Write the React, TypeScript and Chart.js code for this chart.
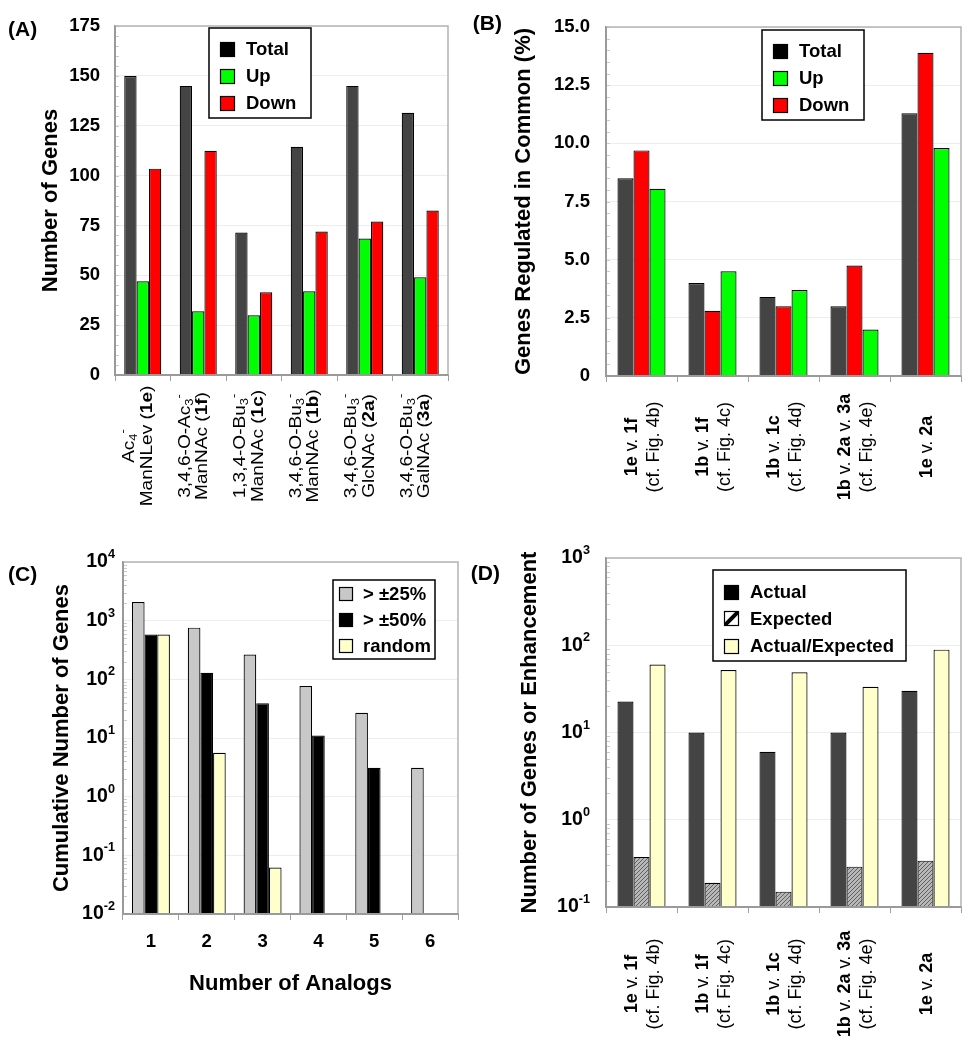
import React, { useEffect, useRef } from 'react';
import { Chart, registerables } from 'chart.js';

Chart.register(...registerables);

const FONT = 'Arial, "Liberation Sans", Helvetica, sans-serif';

// ---------- Panel A data ----------
const compoundLabels: string[][] = [
  ['Ac_4^-', 'ManNLev (*1e*)'],
  ['3,4,6-O-Ac_3^-', 'ManNAc (*1f*)'],
  ['1,3,4-O-Bu_3^-', 'ManNAc (*1c*)'],
  ['3,4,6-O-Bu_3^-', 'ManNAc (*1b*)'],
  ['3,4,6-O-Bu_3^-', 'GlcNAc (*2a*)'],
  ['3,4,6-O-Bu_3^-', 'GalNAc (*3a*)'],
];
const totalGenes = [150, 145, 71.5, 114.5, 145, 131.5];
const upGenes = [47, 32, 30, 42, 68.5, 49];
const downGenes = [103.5, 112.5, 41.5, 72, 77, 82.5];
const seriesNamesA = ['Total', 'Up', 'Down'];

// ---------- Panel B data ----------
const comparisonLabels: string[][] = [
  ['*1e* v. *1f*', '(cf. Fig. 4b)'],
  ['*1b* v. *1f*', '(cf. Fig. 4c)'],
  ['*1b* v. *1c*', '(cf. Fig. 4d)'],
  ['*1b* v. *2a* v. *3a*', '(cf. Fig. 4e)'],
  ['*1e* v. *2a*'],
];
const commonTotal = [8.5, 4.0, 3.4, 3.0, 11.3];
const commonDown = [9.7, 2.8, 3.0, 4.75, 13.9];
const commonUp = [8.05, 4.5, 3.7, 2.0, 9.8];

// ---------- Panel C data ----------
const analogCounts = ['1', '2', '3', '4', '5', '6'];
const cum25 = [2080, 760, 265, 77, 27, 3.1];
const cum50 = [580, 129, 39, 11, 3.1, null];
const cumRandom = [580, 5.6, 0.062, null, null, null];
const seriesNamesC = ['> ±25%', '> ±50%', 'random'];
const decadesC = [0.01, 0.1, 1, 10, 100, 1000, 10000];

// ---------- Panel D data ----------
const actualCommon = [22.6, 10, 6, 10, 30];
const expectedCommon = [0.375, 0.19, 0.15, 0.29, 0.34];
const enhancement = [60, 52, 49, 33.5, 89];
const seriesNamesD = ['Actual', 'Expected', 'Actual/Expected'];
const decadesD = [0.1, 1, 10, 100, 1000];

// ---------- styles ----------
const DARK = '#444444';
const GREEN = '#00ff00';
const RED = '#ff0000';
const LIGHTGRAY = '#c8c8c8';
const YELLOW = '#ffffcc';

type Seg = { t: string; bold: boolean; pos: number };

function parseRich(s: string): Seg[] {
  const segs: Seg[] = [];
  let bold = false;
  let buf = '';
  const flush = () => {
    if (buf) {
      segs.push({ t: buf, bold, pos: 0 });
      buf = '';
    }
  };
  for (let i = 0; i < s.length; i++) {
    const ch = s[i];
    if (ch === '*') {
      flush();
      bold = !bold;
    } else if (ch === '_' || ch === '^') {
      flush();
      segs.push({ t: s[i + 1], bold, pos: ch === '^' ? 1 : -1 });
      i++;
    } else buf += ch;
  }
  flush();
  return segs;
}

function segFont(seg: Seg, size: number) {
  const sz = seg.pos ? size * 0.68 : size;
  return `${seg.bold ? 'bold ' : ''}${sz}px ${FONT}`;
}

function richWidth(ctx: CanvasRenderingContext2D, segs: Seg[], size: number) {
  let w = 0;
  segs.forEach((s) => {
    ctx.font = segFont(s, size);
    w += ctx.measureText(s.t).width;
  });
  return w;
}

function drawRichLine(ctx: CanvasRenderingContext2D, segs: Seg[], size: number, x: number, y: number) {
  let cx = x;
  segs.forEach((s) => {
    ctx.font = segFont(s, size);
    const dy = s.pos === 1 ? -size * 0.45 : s.pos === -1 ? size * 0.18 : 0;
    ctx.fillText(s.t, cx, y + dy);
    cx += ctx.measureText(s.t).width;
  });
}

function drawRotatedLabels(
  chart: any,
  labels: string[][],
  o: { size: number; lineH: number; stretch: number; cy: number; shift: number }
) {
  const ctx: CanvasRenderingContext2D = chart.ctx;
  const xs = chart.scales.x;
  labels.forEach((lines, i) => {
    const cx = xs.getPixelForValue(i) + o.shift;
    ctx.save();
    ctx.translate(cx, o.cy);
    ctx.rotate(-Math.PI / 2);
    ctx.scale(o.stretch, 1);
    ctx.fillStyle = '#000';
    ctx.textAlign = 'left';
    ctx.textBaseline = 'alphabetic';
    const n = lines.length;
    const capH = 0.716 * o.size;
    lines.forEach((line, j) => {
      const segs = parseRich(line);
      const w = richWidth(ctx, segs, o.size);
      const by = (j - (n - 1) / 2) * o.lineH + capH / 2;
      drawRichLine(ctx, segs, o.size, -w / 2, by);
    });
    ctx.restore();
  });
}

function drawFrame(ctx: CanvasRenderingContext2D, ca: any) {
  ctx.save();
  ctx.strokeStyle = '#b4b4b4';
  ctx.lineWidth = 1.5;
  ctx.beginPath();
  ctx.moveTo(ca.left, ca.top);
  ctx.lineTo(ca.right, ca.top);
  ctx.lineTo(ca.right, ca.bottom);
  ctx.stroke();
  ctx.strokeStyle = '#9a9a9a';
  ctx.lineWidth = 2;
  ctx.beginPath();
  ctx.moveTo(ca.left, ca.top);
  ctx.lineTo(ca.left, ca.bottom);
  ctx.lineTo(ca.right, ca.bottom);
  ctx.stroke();
  ctx.restore();
}

function minorLinear(ctx: CanvasRenderingContext2D, scale: any, ca: any, step: number) {
  ctx.save();
  ctx.strokeStyle = '#cccccc';
  ctx.lineWidth = 1;
  for (let v = scale.min; v <= scale.max + 1e-9; v += step) {
    const y = Math.round(scale.getPixelForValue(v)) + 0.5;
    ctx.beginPath();
    ctx.moveTo(ca.left, y);
    ctx.lineTo(ca.left + 4, y);
    ctx.stroke();
  }
  ctx.restore();
}

function minorLog(ctx: CanvasRenderingContext2D, scale: any, ca: any, decades: number[]) {
  ctx.save();
  ctx.strokeStyle = '#cccccc';
  ctx.lineWidth = 1;
  for (let k = 0; k < decades.length - 1; k++) {
    for (let m = 2; m <= 9; m++) {
      const y = Math.round(scale.getPixelForValue(decades[k] * m)) + 0.5;
      ctx.beginPath();
      ctx.moveTo(ca.left, y);
      ctx.lineTo(ca.left + 4, y);
      ctx.stroke();
    }
  }
  ctx.restore();
}

function drawLogLabels(ctx: CanvasRenderingContext2D, scale: any, decades: number[], rightX: number, size: number) {
  ctx.save();
  ctx.fillStyle = '#000';
  ctx.textAlign = 'left';
  ctx.textBaseline = 'middle';
  decades.forEach((v) => {
    const y = scale.getPixelForValue(v);
    const exp = String(Math.round(Math.log10(v)));
    const supFont = `bold ${size * 0.65}px ${FONT}`;
    const baseFont = `bold ${size}px ${FONT}`;
    ctx.font = supFont;
    const ws = ctx.measureText(exp).width;
    ctx.font = baseFont;
    const wb = ctx.measureText('10').width;
    ctx.fillText('10', rightX - ws - wb, y);
    ctx.font = supFont;
    ctx.fillText(exp, rightX - ws, y - size * 0.38);
  });
  ctx.restore();
}

function drawYTitle(ctx: CanvasRenderingContext2D, text: string, x: number, ca: any) {
  ctx.save();
  ctx.translate(x, (ca.top + ca.bottom) / 2);
  ctx.rotate(-Math.PI / 2);
  ctx.font = `bold 22px ${FONT}`;
  ctx.fillStyle = '#000';
  ctx.textAlign = 'center';
  ctx.textBaseline = 'middle';
  ctx.fillText(text, 0, 0);
  ctx.restore();
}

function drawText(ctx: CanvasRenderingContext2D, text: string, x: number, y: number, align: CanvasTextAlign, size: number) {
  ctx.save();
  ctx.font = `bold ${size}px ${FONT}`;
  ctx.fillStyle = '#000';
  ctx.textAlign = align;
  ctx.textBaseline = 'middle';
  ctx.fillText(text, x, y);
  ctx.restore();
}

type LegendItem = { label: string; fill: any };
function drawLegend(
  ctx: CanvasRenderingContext2D,
  box: number[],
  items: LegendItem[],
  ys: number[],
  swX: number,
  sw: number,
  textX: number,
  size: number
) {
  ctx.save();
  ctx.fillStyle = '#fff';
  ctx.fillRect(box[0], box[1], box[2] - box[0], box[3] - box[1]);
  ctx.strokeStyle = '#000';
  ctx.lineWidth = 1.5;
  ctx.strokeRect(box[0], box[1], box[2] - box[0], box[3] - box[1]);
  items.forEach((it, i) => {
    const y = ys[i];
    const x0 = swX;
    const y0 = Math.round(y - sw / 2);
    if (it.fill === 'slash') {
      ctx.fillStyle = '#fff';
      ctx.fillRect(x0, y0, sw, sw);
      ctx.save();
      ctx.beginPath();
      ctx.rect(x0, y0, sw, sw);
      ctx.clip();
      ctx.strokeStyle = '#000';
      ctx.lineWidth = 4;
      ctx.beginPath();
      ctx.moveTo(x0, y0 + sw);
      ctx.lineTo(x0 + sw, y0);
      ctx.stroke();
      ctx.restore();
    } else {
      ctx.fillStyle = it.fill;
      ctx.fillRect(x0, y0, sw, sw);
    }
    ctx.strokeStyle = '#000';
    ctx.lineWidth = 1.2;
    ctx.strokeRect(x0 + 0.5, y0 + 0.5, sw - 1, sw - 1);
    ctx.fillStyle = '#000';
    ctx.font = `bold ${size}px ${FONT}`;
    ctx.textAlign = 'left';
    ctx.textBaseline = 'middle';
    ctx.fillText(it.label, textX, y + 1);
  });
  ctx.restore();
}

function makeHatch(): any {
  const c = document.createElement('canvas');
  c.width = 4;
  c.height = 4;
  const g = c.getContext('2d');
  if (!g) return '#a0a0a0';
  g.fillStyle = '#b8b8b8';
  g.fillRect(0, 0, 4, 4);
  g.fillStyle = '#606060';
  g.fillRect(0, 3, 1, 1);
  g.fillRect(1, 2, 1, 1);
  g.fillRect(2, 1, 1, 1);
  g.fillRect(3, 0, 1, 1);
  return g.createPattern(c, 'repeat') || '#a0a0a0';
}

const plain = (lines: string[]) => lines.join(' ').replace(/[*_^]/g, '');

function barSet(label: string, data: any[], color: any, cp: number) {
  return {
    label,
    data,
    backgroundColor: color,
    borderColor: '#000',
    borderWidth: 1.2,
    categoryPercentage: cp,
    barPercentage: 1,
  };
}

const tickFont = { family: FONT, size: 18.5, weight: 'bold' as const };

function baseOptions(padding: any) {
  return {
    responsive: false,
    animation: false,
    devicePixelRatio: 1,
    events: [],
    layout: { padding },
    plugins: { legend: { display: false }, tooltip: { enabled: false }, title: { display: false } },
  };
}

function xCategoryAxis(height: number, showTicks: boolean, padding = 0) {
  return {
    type: 'category',
    ticks: { display: showTicks, font: tickFont, color: '#000', padding, maxRotation: 0, autoSkip: false },
    grid: { display: true, drawOnChartArea: false, drawTicks: true, tickLength: 6, color: '#a0a0a0', offset: true },
    border: { display: true, color: '#9a9a9a', width: 2 },
    afterFit: (s: any) => {
      s.height = height;
    },
  };
}

// ---------- Panel A ----------
function makeA() {
  return {
    type: 'bar',
    data: {
      labels: compoundLabels.map(plain),
      datasets: [
        barSet(seriesNamesA[0], totalGenes, DARK, 0.667),
        barSet(seriesNamesA[1], upGenes, GREEN, 0.667),
        barSet(seriesNamesA[2], downGenes, RED, 0.667),
      ],
    },
    options: {
      ...baseOptions({ left: 0, top: 22, right: 17, bottom: 0 }),
      scales: {
        x: xCategoryAxis(150, false),
        y: {
          min: 0,
          max: 175,
          ticks: { stepSize: 25, font: tickFont, color: '#000', padding: 15 },
          grid: { color: '#ededed', drawTicks: false },
          border: { display: true, color: '#9a9a9a', width: 1.5 },
          afterFit: (s: any) => {
            s.width = 115;
          },
        },
      },
    },
    plugins: [
      {
        id: 'decorA',
        afterDraw(chart: any) {
          const ctx = chart.ctx;
          const ca = chart.chartArea;
          minorLinear(ctx, chart.scales.y, ca, 5);
          drawFrame(ctx, ca);
          drawYTitle(ctx, 'Number of Genes', 51, ca);
          drawText(ctx, '(A)', 8, 30, 'left', 21);
          drawLegend(
            ctx,
            [209, 28, 311, 118],
            [
              { label: seriesNamesA[0], fill: '#000' },
              { label: seriesNamesA[1], fill: GREEN },
              { label: seriesNamesA[2], fill: RED },
            ],
            [49, 76, 103],
            220,
            15,
            246,
            18.5
          );
          drawRotatedLabels(chart, compoundLabels, { size: 17, lineH: 17.5, stretch: 1.12, cy: 446, shift: -6 });
        },
      },
    ],
  };
}

// ---------- Panel B ----------
function makeB() {
  return {
    type: 'bar',
    data: {
      labels: comparisonLabels.map(plain),
      datasets: [
        barSet(seriesNamesA[0], commonTotal, DARK, 0.677),
        barSet(seriesNamesA[2], commonDown, RED, 0.677),
        barSet(seriesNamesA[1], commonUp, GREEN, 0.677),
      ],
    },
    options: {
      ...baseOptions({ left: 0, top: 22, right: 13, bottom: 0 }),
      scales: {
        x: xCategoryAxis(149, false),
        y: {
          min: 0,
          max: 15,
          ticks: {
            stepSize: 2.5,
            font: tickFont,
            color: '#000',
            padding: 16,
            callback: (v: any) => (Number(v) === 0 ? '0' : Number(v).toFixed(1)),
          },
          grid: { color: '#ededed', drawTicks: false },
          border: { display: true, color: '#9a9a9a', width: 1.5 },
          afterFit: (s: any) => {
            s.width = 141;
          },
        },
      },
    },
    plugins: [
      {
        id: 'decorB',
        afterDraw(chart: any) {
          const ctx = chart.ctx;
          const ca = chart.chartArea;
          minorLinear(ctx, chart.scales.y, ca, 0.5);
          drawFrame(ctx, ca);
          drawYTitle(ctx, 'Genes Regulated in Common (%)', 59, ca);
          drawText(ctx, '(B)', 37, 24, 'right', 21);
          drawLegend(
            ctx,
            [297, 30, 399, 120],
            [
              { label: seriesNamesA[0], fill: '#000' },
              { label: seriesNamesA[1], fill: GREEN },
              { label: seriesNamesA[2], fill: RED },
            ],
            [51, 78, 105],
            308,
            15,
            334,
            18.5
          );
          drawRotatedLabels(chart, comparisonLabels, { size: 18, lineH: 22, stretch: 1, cy: 447, shift: 0 });
        },
      },
    ],
  };
}

// ---------- Panel C ----------
function makeC() {
  return {
    type: 'bar',
    data: {
      labels: analogCounts,
      datasets: [
        barSet(seriesNamesC[0], cum25, LIGHTGRAY, 0.68),
        barSet(seriesNamesC[1], cum50, '#000000', 0.68),
        barSet(seriesNamesC[2], cumRandom, YELLOW, 0.68),
      ],
    },
    options: {
      ...baseOptions({ left: 0, top: 37, right: 7, bottom: 0 }),
      scales: {
        x: xCategoryAxis(136, true, 11),
        y: {
          type: 'logarithmic',
          min: decadesC[0],
          max: decadesC[decadesC.length - 1],
          ticks: { display: false },
          afterBuildTicks: (s: any) => {
            s.ticks = decadesC.map((v) => ({ value: v }));
          },
          grid: { color: '#ededed', drawTicks: false },
          border: { display: true, color: '#9a9a9a', width: 1.5 },
          afterFit: (s: any) => {
            s.width = 123;
          },
        },
      },
    },
    plugins: [
      {
        id: 'decorC',
        afterDraw(chart: any) {
          const ctx = chart.ctx;
          const ca = chart.chartArea;
          minorLog(ctx, chart.scales.y, ca, decadesC);
          drawFrame(ctx, ca);
          drawLogLabels(ctx, chart.scales.y, decadesC, ca.left - 8, 19.5);
          drawYTitle(ctx, 'Cumulative Number of Genes', 62, ca);
          drawText(ctx, 'Number of Analogs', (ca.left + ca.right) / 2, 459, 'center', 22);
          drawText(ctx, '(C)', 8, 50, 'left', 21);
          drawLegend(
            ctx,
            [333, 55, 435, 134],
            [
              { label: seriesNamesC[0], fill: LIGHTGRAY },
              { label: seriesNamesC[1], fill: '#000' },
              { label: seriesNamesC[2], fill: YELLOW },
            ],
            [69, 94.5, 121],
            339,
            14,
            363,
            18.5
          );
        },
      },
    ],
  };
}

// ---------- Panel D ----------
function makeD() {
  const hatch = makeHatch();
  return {
    type: 'bar',
    data: {
      labels: comparisonLabels.map(plain),
      datasets: [
        barSet(seriesNamesD[0], actualCommon, DARK, 0.677),
        barSet(seriesNamesD[1], expectedCommon, hatch, 0.677),
        barSet(seriesNamesD[2], enhancement, YELLOW, 0.677),
      ],
    },
    options: {
      ...baseOptions({ left: 0, top: 33, right: 13, bottom: 0 }),
      scales: {
        x: xCategoryAxis(143, false),
        y: {
          type: 'logarithmic',
          min: decadesD[0],
          max: decadesD[decadesD.length - 1],
          ticks: { display: false },
          afterBuildTicks: (s: any) => {
            s.ticks = decadesD.map((v) => ({ value: v }));
          },
          grid: { color: '#ededed', drawTicks: false },
          border: { display: true, color: '#9a9a9a', width: 1.5 },
          afterFit: (s: any) => {
            s.width = 141;
          },
        },
      },
    },
    plugins: [
      {
        id: 'decorD',
        afterDraw(chart: any) {
          const ctx = chart.ctx;
          const ca = chart.chartArea;
          minorLog(ctx, chart.scales.y, ca, decadesD);
          drawFrame(ctx, ca);
          drawLogLabels(ctx, chart.scales.y, decadesD, ca.left - 16, 19.5);
          drawYTitle(ctx, 'Number of Genes or Enhancement', 65, ca);
          drawText(ctx, '(D)', 35, 49, 'right', 21);
          drawLegend(
            ctx,
            [248, 45, 441, 136],
            [
              { label: seriesNamesD[0], fill: '#000' },
              { label: seriesNamesD[1], fill: 'slash' },
              { label: seriesNamesD[2], fill: YELLOW },
            ],
            [67, 93.5, 121],
            259,
            15,
            285,
            18.5
          );
          drawRotatedLabels(chart, comparisonLabels, { size: 18, lineH: 22, stretch: 1, cy: 459, shift: 0 });
        },
      },
    ],
  };
}

function ChartBox({ x, y, w, h, make }: { x: number; y: number; w: number; h: number; make: () => any }) {
  const ref = useRef<HTMLCanvasElement>(null);
  useEffect(() => {
    const chart = new Chart(ref.current as HTMLCanvasElement, make());
    return () => chart.destroy();
  }, []);
  return (
    <canvas
      ref={ref}
      width={w}
      height={h}
      style={{ position: 'absolute', left: x, top: y, width: w, height: h, display: 'block' }}
    />
  );
}

export default function App() {
  return (
    <div style={{ position: 'absolute', left: 0, top: 0, width: 974, height: 1050, background: '#fff' }}>
      <ChartBox x={0} y={0} w={465} h={525} make={makeA} />
      <ChartBox x={465} y={0} w={509} h={525} make={makeB} />
      <ChartBox x={0} y={525} w={465} h={525} make={makeC} />
      <ChartBox x={465} y={525} w={509} h={525} make={makeD} />
    </div>
  );
}
